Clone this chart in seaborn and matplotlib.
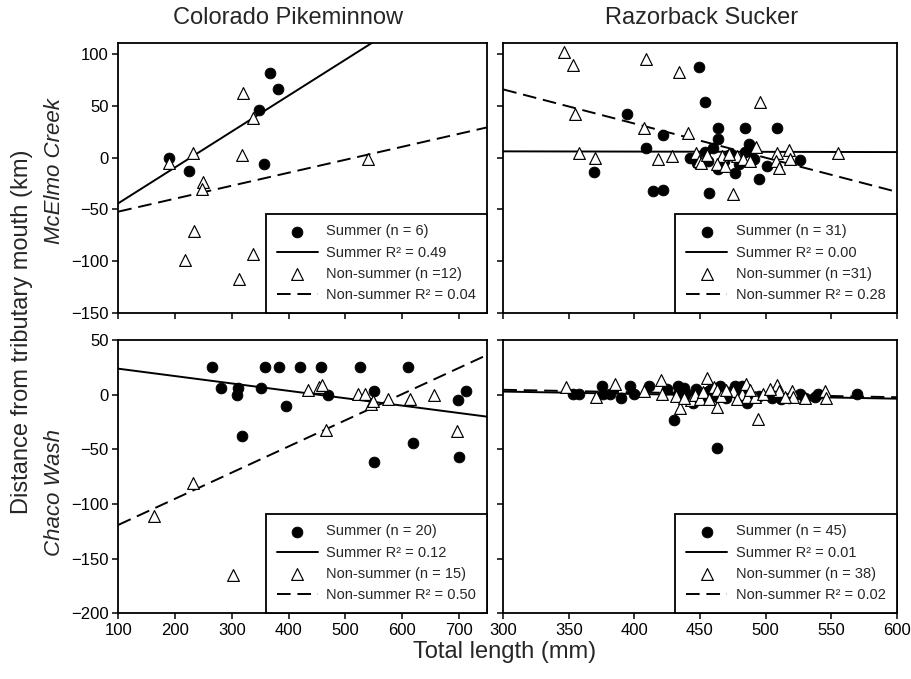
import numpy as np
import pandas as pd
import matplotlib
matplotlib.use("Agg")
import matplotlib.pyplot as plt
import seaborn as sns

# ---------------- data ----------------
# Colorado Pikeminnow - McElmo Creek
cp_mc_sum_x = [189, 225, 348, 368, 381, 357]
cp_mc_sum_y = [0, -13, 46, 81, 66, -6]
cp_mc_non_x = [189, 231, 250, 247, 320, 338, 318, 539, 233, 217, 337, 312]
cp_mc_non_y = [-5, 4, -24, -30, 62, 38, 2, -1, -71, -99, -93, -117]

# Razorback Sucker - McElmo Creek
rs_mc_sum_x = [449, 454, 394, 422, 409, 369, 414, 422, 457, 464, 464, 484, 509, 487, 477, 495,
               501, 526, 454, 460, 456, 464, 491, 484, 472, 488, 442, 448, 468, 474, 480]
rs_mc_sum_y = [87, 53, 42, 22, 9, -14, -32, -31, -34, 28, 18, 28, 28, 13, -15, -21,
               -8, -2, 5, 9, -3, -11, -1, 5, 2, 7, 0, -5, -3, 3, -6]
rs_mc_non_x = [346, 353, 409, 434, 355, 407, 441, 496, 358, 370, 418, 429, 447, 449, 451, 467,
               463, 469, 478, 483, 493, 509, 518, 508, 510, 519, 555, 475, 455, 472, 488]
rs_mc_non_y = [102, 89, 95, 82, 42, 28, 24, 53, 4, 0, -1, 1, 4, -3, -5, 1,
               -6, -8, 1, -1, 10, 4, 7, -3, -10, -1, 4, -35, 2, 3, -3]

# Colorado Pikeminnow - Chaco Wash
cp_cw_sum_x = [265, 281, 310, 309, 318, 351, 358, 383, 396, 420, 457, 470, 525, 550, 551, 611,
               620, 698, 712, 701]
cp_cw_sum_y = [25, 6, 6, 0, -38, 6, 25, 25, -10, 25, 25, 0, 25, 3, -62, 25,
               -44, -5, 3, -57]
cp_cw_non_x = [163, 231, 302, 434, 454, 458, 466, 522, 534, 546, 549, 575, 614, 656, 696]
cp_cw_non_y = [-111, -81, -165, 4, 7, 9, -32, 1, 1, -9, -6, -4, -4, 0, -33]

# Razorback Sucker - Chaco Wash
rs_cw_sum_x = [353, 358, 375, 376, 381, 390, 397, 400, 411, 430, 433, 433, 436, 440, 445, 448,
               465, 463, 477, 482, 486, 526, 538, 540, 570, 478, 530,
               438, 442, 447, 452, 455, 458, 460, 468, 470, 472, 480, 483, 490, 495, 505, 512, 518, 425]
rs_cw_sum_y = [1, 1, 8, 1, 1, -3, 8, 1, 8, -23, 8, 1, -2, 1, -8, 1,
               8, -49, 8, 8, -8, 1, -2, 1, 1, 3, -3,
               6, -1, 5, -2, 2, 4, -1, 1, -3, 2, -2, 1, -3, -1, -3, -4, -3, 5]
rs_cw_non_x = [348, 371, 385, 407, 420, 421, 435, 443, 455, 461, 463, 463, 475, 482, 485, 486,
               492, 494, 509, 510, 520, 521, 530, 545, 546,
               432, 438, 446, 450, 452, 457, 466, 470, 478, 488, 498, 503, 515]
rs_cw_non_y = [7, -2, 10, 3, 13, 1, -12, -5, 15, 7, 4, -11, 3, 1, 10, -2,
               -2, -22, 9, 3, 3, -2, -3, 3, -3,
               -1, -3, 0, -4, 2, -4, -1, 4, -4, 4, 1, 5, -2]

species = ["Colorado Pikeminnow", "Razorback Sucker"]
sites = ["McElmo Creek", "Chaco Wash"]
n_sum = [["6", "31"], ["20", "45"]]
n_non = [["=12", "=31"], ["= 15", "= 38"]]
r2_sum = [["0.49", "0.00"], ["0.12", "0.01"]]
r2_non = [["0.04", "0.28"], ["0.50", "0.02"]]

data = [[(cp_mc_sum_x, cp_mc_sum_y, cp_mc_non_x, cp_mc_non_y),
         (rs_mc_sum_x, rs_mc_sum_y, rs_mc_non_x, rs_mc_non_y)],
        [(cp_cw_sum_x, cp_cw_sum_y, cp_cw_non_x, cp_cw_non_y),
         (rs_cw_sum_x, rs_cw_sum_y, rs_cw_non_x, rs_cw_non_y)]]

# ---------------- style ----------------
sns.set_theme(style="ticks")
plt.rcParams["font.family"] = ["Liberation Sans", "DejaVu Sans"]
plt.rcParams["axes.linewidth"] = 1.3
plt.rcParams["xtick.major.width"] = 1.1
plt.rcParams["ytick.major.width"] = 1.1
plt.rcParams["xtick.major.size"] = 4
plt.rcParams["ytick.major.size"] = 4
plt.rcParams["xtick.labelsize"] = 12
plt.rcParams["ytick.labelsize"] = 12
plt.rcParams["xtick.color"] = "black"
plt.rcParams["ytick.color"] = "black"
plt.rcParams["axes.edgecolor"] = "black"

W, H = 912, 679
fig = plt.figure(figsize=(W / 100, H / 100), dpi=100)

col_px = [(118.3, 487.3), (503.3, 896.7)]
row_px = [(43.3, 313.3), (340.0, 613.3)]
xlims = [(100, 750), (300, 600)]
xticks = [np.arange(100, 701, 100), np.arange(300, 601, 50)]
ylims = [(-150, 110), (-200, 50)]
yticks = [np.arange(-150, 101, 50), np.arange(-200, 51, 50)]

dash = (0, (7, 3.5))

for r in range(2):
    for c in range(2):
        x0, x1 = col_px[c]
        y0, y1 = row_px[r]
        ax = fig.add_axes([x0 / W, 1 - y1 / H, (x1 - x0) / W, (y1 - y0) / H])
        ax.set_xlim(*xlims[c])
        ax.set_ylim(*ylims[r])
        sx, sy, nx, ny = data[r][c]
        ds = pd.DataFrame({"x": sx, "y": sy})
        dn = pd.DataFrame({"x": nx, "y": ny})

        lab_s = f"Summer R² = {r2_sum[r][c]}"
        lab_n = f"Non-summer R² = {r2_non[r][c]}"
        lab_sp = f"Summer (n = {n_sum[r][c]})"
        lab_np = f"Non-summer (n {n_non[r][c]})"

        sns.regplot(data=ds, x="x", y="y", ax=ax, scatter=False, ci=None, truncate=False,
                    label=lab_s, line_kws=dict(color="black", lw=1.4, zorder=2))
        sns.regplot(data=dn, x="x", y="y", ax=ax, scatter=False, ci=None, truncate=False,
                    label=lab_n, line_kws=dict(color="black", lw=1.4, ls=dash, zorder=2))
        sns.scatterplot(data=ds, x="x", y="y", ax=ax, marker="o", color="black",
                        edgecolor="black", s=60, zorder=3, label=lab_sp)
        sns.scatterplot(data=dn, x="x", y="y", ax=ax, marker="^", color="white",
                        edgecolor="black", linewidth=0.85, s=72, zorder=4, label=lab_np)

        ax.set_xlim(*xlims[c])
        ax.set_ylim(*ylims[r])
        ax.set_xticks(xticks[c])
        ax.set_yticks(yticks[r])
        ax.set_xlabel("")
        ax.set_ylabel("")
        ax.tick_params(direction="out", pad=3)
        if r == 0:
            ax.set_xticklabels([])
        if c == 1:
            ax.set_yticklabels([])
        for s in ax.spines.values():
            s.set_visible(True)
            s.set_color("black")

        h, l = ax.get_legend_handles_labels()
        hd = dict(zip(l, h))
        want = [lab_sp, lab_s, lab_np, lab_n]
        leg = ax.legend([hd[k] for k in want], want, loc="lower right",
                        bbox_to_anchor=(1, 0), borderaxespad=0, frameon=True, fancybox=False,
                        edgecolor="black", framealpha=1, fontsize=10.5, handlelength=2.8,
                        handletextpad=0.6, labelspacing=0.5, borderpad=0.75)
        leg.get_frame().set_linewidth(1.3)

# titles and labels
fig.text(288 / W, 1 - 18 / H, species[0], ha="center", va="center", fontsize=17)
fig.text(702 / W, 1 - 18 / H, species[1], ha="center", va="center", fontsize=17)
fig.text(505 / W, 1 - 652 / H, "Total length (mm)", ha="center", va="center", fontsize=17)
fig.text(22 / W, 1 - 332 / H, "Distance from tributary mouth (km)", ha="center", va="center",
         rotation=90, fontsize=17)
fig.text(55 / W, 1 - 171 / H, sites[0], ha="center", va="center", rotation=90, fontsize=16,
         style="italic")
fig.text(55 / W, 1 - 492 / H, sites[1], ha="center", va="center", rotation=90, fontsize=16,
         style="italic")

fig.savefig("out.png", dpi=100)
